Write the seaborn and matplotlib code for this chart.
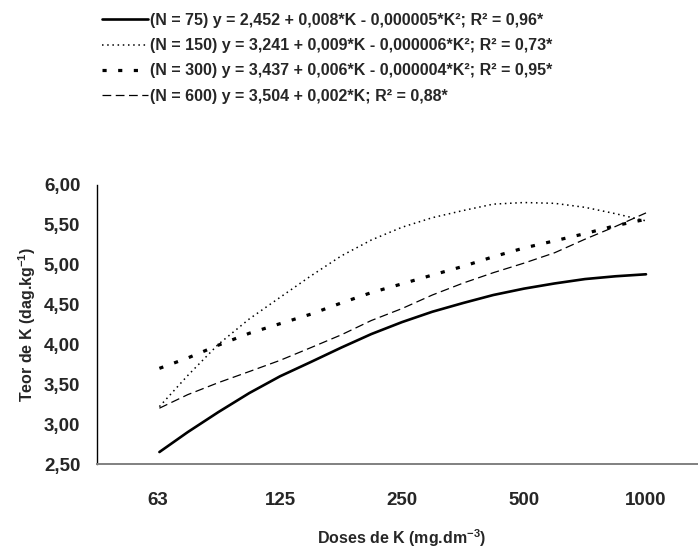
import numpy as np
import pandas as pd
import matplotlib
matplotlib.use("Agg")
import matplotlib.pyplot as plt
import seaborn as sns
from matplotlib.ticker import FixedLocator, FuncFormatter, NullFormatter

# ---- data ----
categories = ["63", "125", "250", "500", "1000"]
cat_doses = [62.5, 125, 250, 500, 1000]

dose = [63, 74, 88, 105, 125, 149, 177, 210, 250, 297, 354, 420, 500, 595, 707, 841, 1000]

n75 = [2.65, 2.90, 3.15, 3.39, 3.60, 3.78, 3.96, 4.13, 4.28, 4.41, 4.52, 4.62, 4.70, 4.765, 4.82, 4.855, 4.88]
n150 = [3.22, 3.61, 4.00, 4.32, 4.59, 4.86, 5.11, 5.31, 5.47, 5.59, 5.68, 5.76, 5.78, 5.77, 5.72, 5.64, 5.55]
n300 = [3.70, 3.83, 3.99, 4.14, 4.26, 4.38, 4.52, 4.65, 4.76, 4.87, 4.98, 5.10, 5.21, 5.30, 5.39, 5.49, 5.57]
n600 = [3.20, 3.37, 3.52, 3.66, 3.80, 3.96, 4.12, 4.30, 4.45, 4.62, 4.77, 4.90, 5.02, 5.15, 5.32, 5.48, 5.65]

labels = [
    "(N = 75) y = 2,452 + 0,008*K - 0,000005*K²; R² = 0,96*",
    "(N = 150) y = 3,241 + 0,009*K - 0,000006*K²; R² = 0,73*",
    "(N = 300) y = 3,437 + 0,006*K - 0,000004*K²; R² = 0,95*",
    "(N = 600) y = 3,504 + 0,002*K; R² = 0,88*",
]
yticks = [2.5, 3.0, 3.5, 4.0, 4.5, 5.0, 5.5, 6.0]

# ---- style ----
sns.set_style("white")
plt.rcParams["font.family"] = ["Liberation Sans", "DejaVu Sans"]
plt.rcParams["font.weight"] = "bold"
plt.rcParams["mathtext.fontset"] = "custom"
plt.rcParams["mathtext.rm"] = "Liberation Sans:bold"
plt.rcParams["mathtext.it"] = "Liberation Sans:bold"
plt.rcParams["mathtext.bf"] = "Liberation Sans:bold"

fig = plt.figure(figsize=(6.98, 5.48), dpi=100)
W, H = 698, 548
ax = fig.add_axes([97 / W, (H - 464) / H, 610 / W, 279 / H])

series = [n75, n150, n300, n600]
styles = [
    dict(linewidth=1.9, linestyle="-"),
    dict(linewidth=1.1, linestyle=(0, (1.0, 2.4))),
    dict(linewidth=2.3, linestyle=(0, (1.3, 3.6))),
    dict(linewidth=0.9, linestyle=(0, (7.0, 3.6))),
]
for vals, lab, st in zip(series, labels, styles):
    df = pd.DataFrame({"dose": dose, "teor": vals})
    sns.lineplot(data=df, x="dose", y="teor", ax=ax, color="black",
                 label=lab, **st)

ax.set_xscale("log", base=2)
ax.set_xlim(62.5 * 2 ** -0.5, 62.5 * 2 ** 4.5)
ax.set_ylim(2.5, 6.0)

# x: labels at category centers, tick marks between categories
ax.set_xticks(cat_doses)
ax.set_xticklabels(categories)
bounds = [62.5 * 2 ** (k - 0.5) for k in range(0, 6)]
ax.xaxis.set_minor_locator(FixedLocator(bounds))
ax.xaxis.set_minor_formatter(NullFormatter())
ax.tick_params(axis="x", which="major", length=0, pad=20, labelsize=13.5)
ax.tick_params(axis="x", which="minor", length=4, width=1, color="#808080", direction="out")

ax.set_yticks(yticks)
ax.yaxis.set_major_formatter(FuncFormatter(lambda v, p: f"{v:.2f}".replace(".", ",")))
ax.tick_params(axis="y", which="major", length=5, width=1, color="#808080", direction="out", pad=7, labelsize=13.5)
ax.tick_params(axis="y", which="minor", length=0)

for s in ["top", "right"]:
    ax.spines[s].set_visible(False)
ax.spines["left"].set_color("black")
ax.spines["left"].set_linewidth(1.0)
ax.spines["bottom"].set_color("#808080")
ax.spines["bottom"].set_linewidth(1.4)

ax.set_xlabel("Doses de K (mg.dm$^{-3}$)", fontsize=11.5, fontweight="bold")
ax.set_ylabel("Teor de K (dag.kg$^{-1}$)", fontsize=11.5, fontweight="bold")
ax.xaxis.set_label_coords(0.5, -(527 - 464) / 279)
ax.xaxis.label.set_verticalalignment("top")
ax.yaxis.set_label_coords((38 - 97) / 610, 0.5)

leg = ax.legend(loc="upper left", bbox_to_anchor=(102 / W, 1 - 13 / H),
                bbox_transform=fig.transFigure, frameon=False,
                fontsize=11.5, handlelength=2.88, handletextpad=0.12,
                labelspacing=0.64, borderpad=0, borderaxespad=0)
for t in leg.get_texts():
    t.set_fontweight("bold")

fig.savefig("out.png", dpi=100)
